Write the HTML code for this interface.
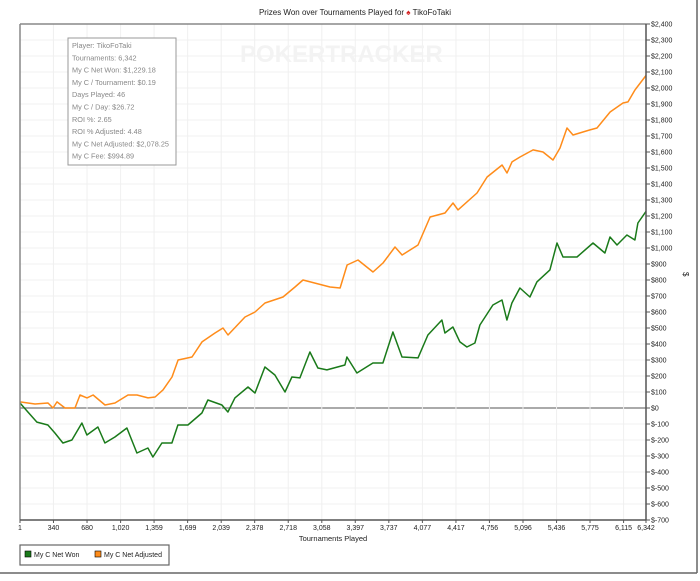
<!DOCTYPE html>
<html><head><meta charset="utf-8"><style>
body{margin:0;background:#fff;font-family:"Liberation Sans",sans-serif}
svg text{font-family:"Liberation Sans",sans-serif}
</style></head><body>
<svg id="chart" width="700" height="576" xmlns="http://www.w3.org/2000/svg">
<rect width="700" height="576" fill="#fff"/>
<line x1="697" y1="0" x2="697" y2="573" stroke="#666" stroke-width="1.5"/>
<line x1="0" y1="573" x2="697" y2="573" stroke="#666" stroke-width="1.5"/>
<text x="355" y="15" font-size="8" text-anchor="middle" fill="#222">Prizes Won over Tournaments Played for <tspan fill="#d42020">♠</tspan> TikoFoTaki</text>
<g id="grid"></g>
<text x="240" y="62" font-size="24" font-weight="bold" fill="#f3f3f3">POKERTRACKER</text>
<g id="series"></g>
<line x1="20" y1="24" x2="646" y2="24" stroke="#888" stroke-width="1.5"/>
<line x1="20" y1="24" x2="20" y2="520" stroke="#888" stroke-width="1.5"/>
<line x1="646" y1="24" x2="646" y2="520" stroke="#555" stroke-width="1.5"/>
<line x1="20" y1="520" x2="646" y2="520" stroke="#555" stroke-width="1.5"/>
<g id="axes"></g>
<text x="683" y="272" font-size="8" transform="rotate(90 683 272)" fill="#222">$</text>
<text x="333" y="541" font-size="7.5" text-anchor="middle" fill="#222">Tournaments Played</text>
<g>
<rect x="68" y="38" width="108" height="127" fill="#fff" stroke="#999" stroke-width="1"/>
<g font-size="7.3" fill="#888" id="stats"></g>
</g>
<g>
<rect x="20" y="545" width="149" height="20" fill="#fff" stroke="#666" stroke-width="1.2"/>
<g><rect x="25" y="551" width="6" height="6" fill="#1a7a1a" stroke="#000" stroke-width="0.6"/><text x="34" y="557" font-size="7" fill="#222">My C Net Won</text></g>
<g><rect x="95" y="551" width="6" height="6" fill="#ff8c1a" stroke="#000" stroke-width="0.6"/><text x="104" y="557" font-size="7" fill="#222">My C Net Adjusted</text></g>
</g>
</svg>
<script>
const xTicks=[1,340,680,1020,1359,1699,2039,2378,2718,3058,3397,3737,4077,4417,4756,5096,5436,5775,6115,6342];
const yTicks=[-700,-600,-500,-400,-300,-200,-100,0,100,200,300,400,500,600,700,800,900,1000,1100,1200,1300,1400,1500,1600,1700,1800,1900,2000,2100,2200,2300,2400];
const wonT=[1,81,172,284,355,436,527,628,679,790,861,962,1084,1185,1297,1347,1438,1540,1600,1702,1844,1904,2046,2107,2178,2310,2381,2482,2583,2685,2755,2836,2938,3019,3110,3292,3312,3414,3576,3677,3778,3870,4032,4133,4275,4305,4386,4457,4528,4609,4660,4791,4883,4933,4984,5065,5166,5237,5369,5440,5501,5643,5805,5926,5977,6048,6149,6230,6260,6342];
const wonV=[31,-25,-88,-106,-156,-219,-200,-94,-169,-119,-219,-181,-125,-281,-250,-306,-219,-219,-106,-106,-31,50,19,-25,63,131,94,256,206,100,194,188,350,250,238,269,319,219,281,281,475,319,313,456,550,469,506,413,381,406,519,644,675,550,656,750,694,788,863,1031,944,944,1031,969,1069,1019,1081,1050,1156,1229];
const adjT=[1,153,285,335,376,457,558,609,680,741,862,963,1095,1186,1298,1369,1450,1541,1602,1743,1845,1976,2057,2108,2280,2381,2483,2665,2787,2868,3141,3243,3314,3425,3577,3678,3800,3871,4033,4155,4306,4387,4438,4630,4732,4884,4934,4985,5066,5198,5299,5400,5471,5542,5603,5775,5846,5978,6109,6160,6231,6342];
const adjV=[38,25,31,0,38,0,0,81,63,81,19,31,81,81,63,69,113,194,300,319,413,469,500,456,569,600,656,694,756,800,756,750,894,925,850,906,1006,956,1019,1194,1219,1281,1238,1344,1444,1519,1469,1538,1569,1613,1600,1550,1625,1750,1706,1738,1750,1850,1906,1913,1988,2078];
const stats=["Player: TikoFoTaki","Tournaments: 6,342","My C Net Won: $1,229.18","My C / Tournament: $0.19","Days Played: 46","My C / Day: $26.72","ROI %: 2.65","ROI % Adjusted: 4.48","My C Net Adjusted: $2,078.25","My C Fee: $994.89"];
const NS="http://www.w3.org/2000/svg";
const X0=20,X1=646,Y0=520,Y1=24;
const xs=t=>X0+(t-1)/(6342-1)*(X1-X0);
const ys=v=>Y0-(v+700)/3100*(Y0-Y1);
function mk(tag,attrs,parent){const e=document.createElementNS(NS,tag);for(const k in attrs)e.setAttribute(k,attrs[k]);parent.appendChild(e);return e;}
const grid=document.getElementById('grid'),axes=document.getElementById('axes'),ser=document.getElementById('series'),st=document.getElementById('stats');
const fmt=n=>n.toLocaleString('en-US');
yTicks.forEach(v=>{const y=ys(v);
 const g=mk('line',{x1:X0,x2:X1,y1:y,y2:y,stroke:v===0?'#777':'#f0f0f0','stroke-width':v===0?1.2:1},grid);
 
 
 mk('line',{x1:X1,x2:X1+4,y1:y,y2:y,stroke:'#555'},axes);
 const t=mk('text',{x:X1+5,y:y+2.5,'font-size':7,fill:'#222'},axes);
 t.textContent=v<0?'$-'+fmt(-v):'$'+fmt(v);
 
 
});
xTicks.forEach((v,i)=>{const x=xs(v);
 if(i>0&&i<xTicks.length-1){const g=mk('line',{x1:x,x2:x,y1:Y1,y2:Y0,stroke:'#f0f0f0'},grid);
 
 }
 mk('line',{x1:x,x2:x,y1:Y0,y2:Y0+3,stroke:'#555'},axes);
 const t=mk('text',{x:x,y:Y0+10,'font-size':7,fill:'#222','text-anchor':'middle'},axes);
 t.textContent=fmt(v);
 
 
});
function line(T,V,color,name){const d=T.map((t,i)=>(i?'L':'M')+xs(t).toFixed(1)+','+ys(V[i]).toFixed(1)).join('');
 const p=mk('path',{d:d,fill:'none',stroke:color,'stroke-width':1.5,'stroke-linejoin':'round'},ser);
 
 }
line(adjT,adjV,'#ff8c1a','net-adjusted-line');
line(wonT,wonV,'#1a7a1a','net-won-line');
stats.forEach((s,i)=>{const t=mk('text',{x:72,y:48+i*12.3},st);t.textContent=s;
 
 });
</script>
</body></html>
